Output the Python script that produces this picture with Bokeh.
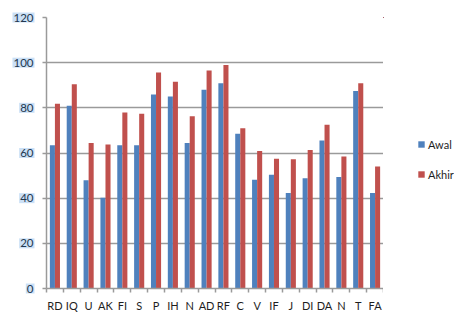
from bokeh.plotting import figure
from bokeh.layouts import row
from bokeh.models import (ColumnDataSource, Range1d, FixedTicker, Legend, LegendItem)
from bokeh.transform import dodge
from bokeh.embed import file_html
from bokeh.resources import INLINE

categories = ["RD", "IQ", "U", "AK", "FI", "S", "P", "IH", "N", "AD",
              "RF", "C", "V", "IF", "J", "DI", "DA", "N", "T", "FA"]
awal = [63.4, 80.9, 47.9, 40.2, 63.4, 63.4, 85.9, 85.0, 64.4, 88.0,
        90.9, 68.5, 48.2, 50.4, 42.3, 48.8, 65.5, 49.4, 87.5, 42.3]
akhir = [81.8, 90.4, 64.4, 63.8, 77.9, 77.4, 95.6, 91.6, 76.3, 96.5,
         99.0, 71.0, 60.9, 57.4, 57.2, 61.3, 72.5, 58.4, 90.9, 54.0]
series_names = ["Awal", "Akhir"]
y_ticks = [0, 20, 40, 60, 80, 100, 120]

BLUE = "#4F81BD"
RED = "#C0504D"
GRID = "#9a9a9a"
FONT = "Lato"

W, H = 454, 314
TOP, BOTTOM = 17, 25
LEFT_W = 38
LEG_W = 71

y_range = Range1d(0, 120)

# ---------- main chart ----------
pos = list(range(len(categories)))
src = ColumnDataSource(dict(x=pos, awal=awal, akhir=akhir))

p = figure(width=W - LEFT_W - LEG_W, height=H, output_backend="svg", toolbar_location=None,
           x_range=Range1d(-0.5, len(categories) - 0.5), y_range=y_range,
           min_border_left=8, min_border_right=0, min_border_top=TOP, min_border_bottom=BOTTOM)
p.outline_line_color = None

r1 = p.vbar(x=dodge("x", -0.15, range=p.x_range), top="awal", width=0.3, source=src,
            fill_color=BLUE, line_color=None)
r2 = p.vbar(x=dodge("x", 0.15, range=p.x_range), top="akhir", width=0.3, source=src,
            fill_color=RED, line_color=None)

p.xaxis.ticker = FixedTicker(ticks=pos, minor_ticks=[i - 0.5 for i in pos] + [len(pos) - 0.5])
p.xaxis.major_label_overrides = {i: c for i, c in enumerate(categories)}
p.xaxis.major_tick_out = 0
p.xaxis.major_tick_in = 0
p.xaxis.minor_tick_out = 4
p.xaxis.minor_tick_in = 0
p.xaxis.minor_tick_line_color = GRID
p.xaxis.minor_tick_line_width = 1.5
p.xaxis.axis_line_color = GRID
p.xaxis.axis_line_width = 1.5
p.xaxis.major_label_standoff = 6
p.xaxis.major_label_text_font = FONT
p.xaxis.major_label_text_font_size = "11px"
p.xaxis.major_label_text_color = "#1e1e1e"
p.xgrid.visible = False

p.yaxis.ticker = FixedTicker(ticks=y_ticks, minor_ticks=[])
p.yaxis.major_label_overrides = {v: "" for v in y_ticks}
p.yaxis.major_label_standoff = 0
p.yaxis.major_tick_out = 4
p.yaxis.major_tick_in = 0
p.yaxis.major_tick_line_color = GRID
p.yaxis.major_tick_line_width = 1.5
p.yaxis.axis_line_color = GRID
p.yaxis.axis_line_width = 1.5
p.ygrid.ticker = FixedTicker(ticks=y_ticks)
p.ygrid.grid_line_color = GRID
p.ygrid.grid_line_width = 1.5

# ---------- left strip: highlighted y tick labels ----------
lab = figure(width=LEFT_W, height=H, output_backend="svg", toolbar_location=None,
             x_range=Range1d(0, LEFT_W), y_range=y_range,
             min_border_left=0, min_border_right=0, min_border_top=TOP, min_border_bottom=BOTTOM)
lab.axis.visible = False
lab.grid.visible = False
lab.outline_line_color = None
lab_src = ColumnDataSource(dict(x=[LEFT_W - 4] * len(y_ticks), y=y_ticks,
                                t=[str(v) for v in y_ticks]))
lab.text(x="x", y="y", text="t", source=lab_src, text_align="right", text_baseline="middle",
         text_font={"value": FONT}, text_font_size="11.5px", text_color="#23384f",
         background_fill_color="#cbe0f6", padding=1, level="overlay")

# ---------- right strip: legend ----------
# proxy bars (same data) lie entirely outside this strip's ranges; only the legend shows
leg = figure(width=LEG_W, height=H, output_backend="svg", toolbar_location=None,
             x_range=Range1d(100, 101), y_range=Range1d(-2, -1),
             min_border_left=0, min_border_right=0, min_border_top=TOP, min_border_bottom=BOTTOM)
leg.axis.visible = False
leg.grid.visible = False
leg.outline_line_color = None
l1 = leg.vbar(x="x", top="awal", width=0.3, source=src, fill_color=BLUE, line_color=None)
l2 = leg.vbar(x="x", top="akhir", width=0.3, source=src, fill_color=RED, line_color=None)
legend = Legend(items=[LegendItem(label=series_names[0], renderers=[l1]),
                       LegendItem(label=series_names[1], renderers=[l2])],
                location=(34, 104), orientation="vertical",
                glyph_width=8, glyph_height=8, label_standoff=3, spacing=10,
                padding=0, margin=0, border_line_color=None, background_fill_alpha=0,
                label_text_font=FONT, label_text_font_size="11px",
                label_text_color="#1e1e1e", label_height=20)
leg.add_layout(legend, "center")

layout = row(lab, p, leg, spacing=0)
open("out.html", "w").write(file_html(layout, INLINE))
